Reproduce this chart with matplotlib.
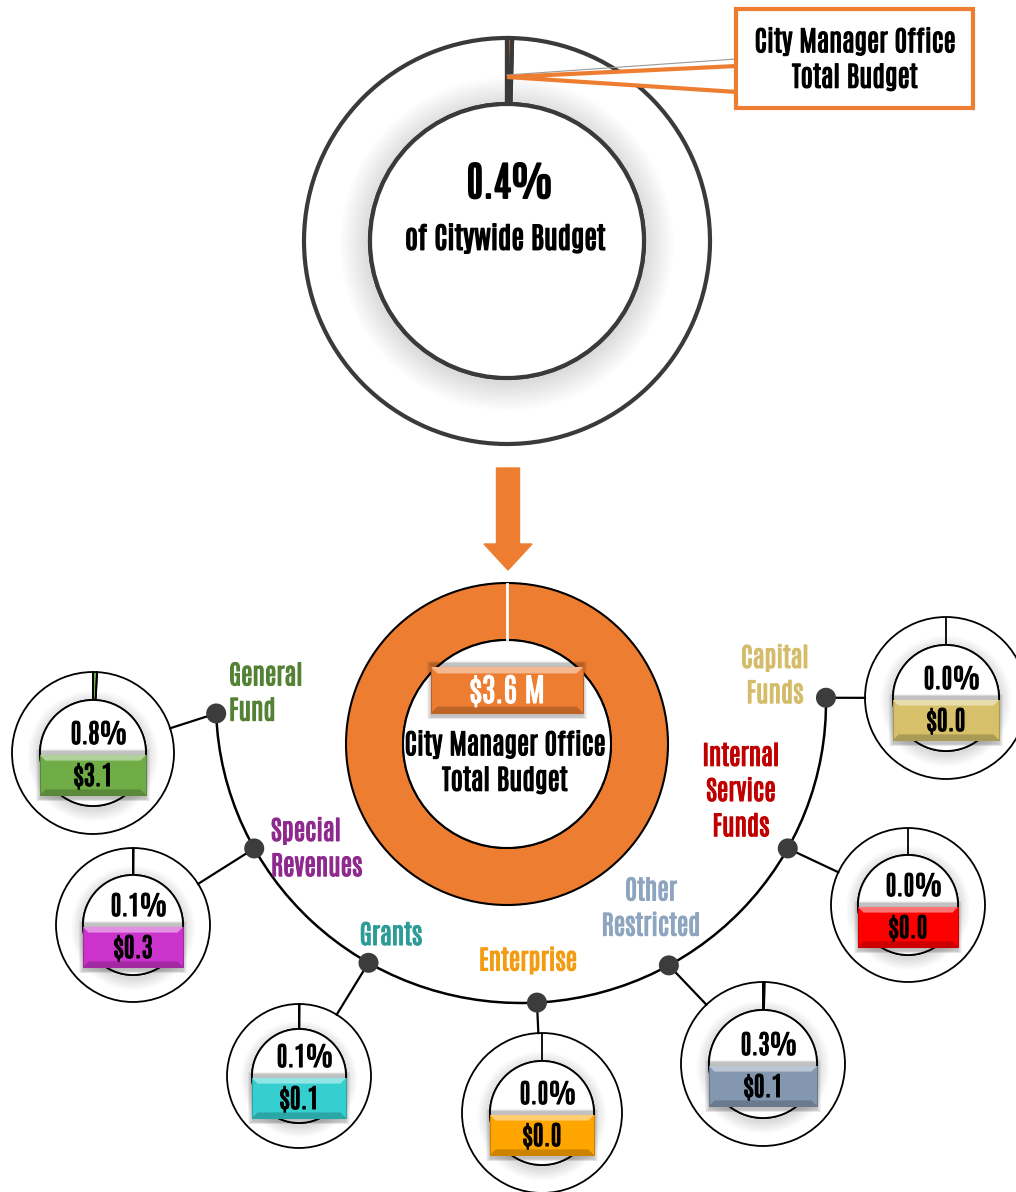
import numpy as np
import matplotlib
matplotlib.use('Agg')
import matplotlib.pyplot as plt
import matplotlib.patheffects as pe
from matplotlib.patches import Circle, Rectangle, Arc, Polygon, FancyArrow

FONT = ['Antonio', 'DejaVu Sans']
plt.rcParams['font.family'] = FONT
plt.rcParams['font.weight'] = 'bold'

# data
citywide_share = 0.4
dept_total = 3.6
dept_name = 'City Manager Office\nTotal Budget'
funds = ['General\nFund', 'Special\nRevenues', 'Grants', 'Enterprise',
         'Other\nRestricted', 'Internal\nService\nFunds', 'Capital\nFunds']
fund_share = [0.8, 0.1, 0.1, 0.0, 0.3, 0.0, 0.0]
fund_amount = [3.1, 0.3, 0.1, 0.0, 0.1, 0.0, 0.0]

# styles / layout (pixel coordinates, y down)
orange = '#ED7D31'
box_colors = ['#70AD47', '#CC33CC', '#36CFCF', '#FFA500', '#8497B0', '#FF0000', '#D6C16A']
label_colors = ['#548235', '#8E2A8E', '#2E9C96', '#F39C12', '#8EA5C0', '#C00000', '#D4BC6A']
centers = [(93, 753), (133, 925), (299, 1076), (542, 1113), (763, 1064), (908, 905), (946, 698)]
r_outer = [81, 77, 72, 80, 82, 77, 81]
r_inner = [53, 50, 47, 52, 54, 50, 53]
dot_angles = [178, 151, 120, 87, 61, 29, -1]
label_pos = [(229, 693, 'left'), (271, 848, 'left'), (391, 935, 'center'), (528, 960, 'center'),
             (651, 908, 'center'), (741, 791, 'center'), (775, 675, 'center')]
arc_c, arc_rx, arc_ry = (521, 703), 305, 300

fig = plt.figure(figsize=(10.16, 11.92), dpi=100)
ax = fig.add_axes([0, 0, 1, 1])


def label(x, y, s, color='black', stroke=0.8, **kw):
    kw.setdefault('ha', 'center')
    kw.setdefault('va', 'center')
    kw.setdefault('zorder', 5)
    ax.text(x, y, s, family=FONT, fontweight='bold', color=color,
            path_effects=[pe.withStroke(linewidth=stroke, foreground=color)], **kw)


def ring(center, ro, ri, share, color, edge='black', lw=1.3):
    cx, cy = center
    ax.add_patch(Circle(center, ro, facecolor='white', edgecolor='none', zorder=1))
    # soft shading inside the ring
    w = ro - ri
    for k in range(12):
        rr = ri + w * 0.45 * (1 - k / 12)
        ax.add_patch(Circle((cx, cy + 3), rr, facecolor='black', edgecolor='none',
                            alpha=0.012, zorder=1.1))
    ax.pie([share, 100 - share], colors=[color, 'none'], radius=ro, center=center,
           startangle=-90, counterclock=True, frame=True,
           wedgeprops=dict(width=w, edgecolor=edge, linewidth=lw, zorder=2))
    ax.add_patch(Circle(center, ri, facecolor='white', edgecolor=edge, lw=lw, zorder=2.5))


def value_box(cx, cy, w, h, color, text, fs=19, tcolor='black'):
    c = np.array(matplotlib.colors.to_rgb(color))
    light = 1 - (1 - c) * 0.55
    dark = c * 0.8
    for k in range(5):
        ax.add_patch(Rectangle((cx - w / 2 - k, cy - h / 2 - 4 - k * 0.5), w + 2 * k, h + 8 + k,
                               facecolor='black', alpha=0.05, edgecolor='none', zorder=3))
    ax.add_patch(Rectangle((cx - w / 2, cy - h / 2), w, h, facecolor=c, edgecolor=dark,
                           lw=0.8, zorder=3.1))
    b = h * 0.14
    ax.add_patch(Polygon([(cx - w / 2, cy - h / 2), (cx + w / 2, cy - h / 2),
                          (cx + w / 2 - b, cy - h / 2 + b), (cx - w / 2 + b, cy - h / 2 + b)],
                         facecolor=light, edgecolor='none', zorder=3.2))
    ax.add_patch(Polygon([(cx - w / 2, cy + h / 2), (cx + w / 2, cy + h / 2),
                          (cx + w / 2 - b, cy + h / 2 - b), (cx - w / 2 + b, cy + h / 2 - b)],
                         facecolor=dark, edgecolor='none', zorder=3.2))
    label(cx, cy + 1, text, fontsize=fs, color=tcolor)


# top ring: share of citywide budget
ring((507, 241), 203, 137, citywide_share, orange, edge='#3A3A3A', lw=3)
label(510, 183, '%.1f%%' % citywide_share, fontsize=29, stroke=1.4)
label(505, 238, 'of Citywide Budget', fontsize=21, stroke=1.0)

# callout
ax.add_patch(Rectangle((736, 9), 237, 99, facecolor='white', edgecolor=orange, lw=3, zorder=6))
ax.add_patch(Polygon([(507, 77), (737, 66), (737, 92)], closed=True, facecolor='white',
                     edgecolor=orange, lw=3, zorder=5.5))
ax.add_patch(Rectangle((738, 64), 6, 30, facecolor='white', edgecolor='none', zorder=6.5))
ax.plot([507, 736], [75, 59], color='#9A9A9A', lw=0.8, zorder=5)
label(855, 59, dept_name, fontsize=20, linespacing=1.3, zorder=7)

# arrow
ax.add_patch(FancyArrow(508, 468, 0, 102, width=23, head_width=48, head_length=26,
                        length_includes_head=True, color=orange, zorder=5))

# department ring
mc, mro, mri = (507, 744), 161, 104
ax.pie([dept_total], colors=[orange], radius=mro, center=mc, startangle=-90, frame=True,
       wedgeprops=dict(width=mro - mri, edgecolor='black', linewidth=1.5, zorder=2))
ax.add_patch(Circle(mc, mri, facecolor='white', edgecolor='black', lw=1.5, zorder=2.5))
ax.plot([mc[0], mc[0]], [mc[1] - mro + 1, mc[1] - mri - 1], color='white', lw=2, zorder=3)
value_box(507, 690, 152, 46, orange, '$%.1f M' % dept_total, fs=23, tcolor='white')
label(505, 762, dept_name, fontsize=20, linespacing=1.3)

# arc with fund dots
ax.add_patch(Arc(arc_c, 2 * arc_rx, 2 * arc_ry, theta1=-1, theta2=178, color='black',
                 lw=1.8, zorder=2))

for i in range(len(funds)):
    cx, cy = centers[i]
    t = np.radians(dot_angles[i])
    dx, dy = arc_c[0] + arc_rx * np.cos(t), arc_c[1] + arc_ry * np.sin(t)
    v = np.array([cx - dx, cy - dy])
    dist = np.hypot(*v)
    ex, ey = np.array([dx, dy]) + v / dist * (dist - r_outer[i])
    ax.plot([dx, ex], [dy, ey], color='black', lw=1.6, zorder=2)
    ax.add_patch(Circle((dx, dy), 10, facecolor='#3C3C3C', edgecolor='none', zorder=4))

    ring(centers[i], r_outer[i], r_inner[i], fund_share[i], box_colors[i])
    label(cx + 6, cy - 19, '%.1f%%' % fund_share[i], fontsize=19)
    value_box(cx, cy + 22, 2 * r_inner[i], 40, box_colors[i], '$%.1f' % fund_amount[i])

    lx, ly, ha = label_pos[i]
    label(lx, ly, funds[i], ha=ha, fontsize=19, color=label_colors[i], linespacing=1.4)

ax.set_xlim(0, 1016)
ax.set_ylim(1192, 0)
ax.set_aspect('equal')
ax.axis('off')
fig.savefig('out.png', dpi=100)
